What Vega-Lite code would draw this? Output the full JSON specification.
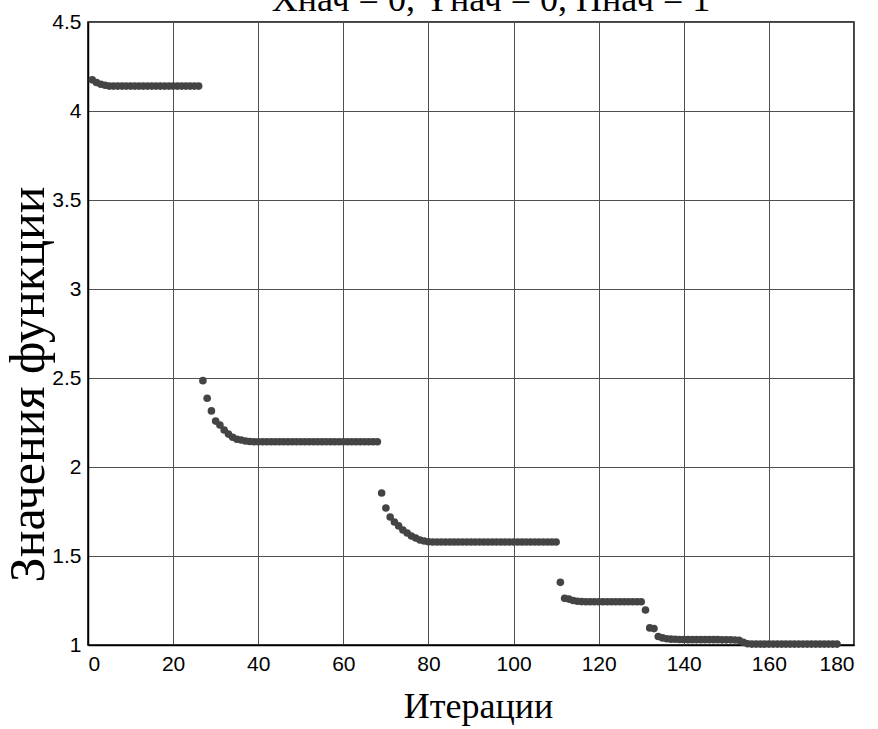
{
  "$schema": "https://vega.github.io/schema/vega-lite/v6.json",
  "width": 766,
  "height": 623,
  "autosize": {"type": "none"},
  "padding": {"left": 88, "top": 22, "right": 24, "bottom": 84},
  "background": "white",
  "title": {
    "text": "Xнач = 0, Yнач = 0, Hнач = 1",
    "font": "Liberation Serif",
    "fontSize": 36,
    "fontWeight": "normal",
    "color": "black",
    "baseline": "alphabetic",
    "anchor": "middle",
    "frame": "group",
    "offset": -36,
    "dx": 20
  },
  "config": {
    "view": {"stroke": "black", "strokeWidth": 1.5},
    "axis": {
      "labelFont": "Liberation Sans",
      "labelFontSize": 21,
      "labelColor": "black",
      "titleFont": "Liberation Serif",
      "titleFontSize": 36,
      "titleFontWeight": "normal",
      "titleColor": "black",
      "gridColor": "#505050",
      "gridOpacity": 1,
      "gridWidth": 1,
      "domainColor": "black",
      "domainWidth": 1.5,
      "ticks": false
    }
  },
  "data": {
    "values": [
      {"iter": 1, "f": 4.175}, {"iter": 2, "f": 4.16}, {"iter": 3, "f": 4.15}, {"iter": 4, "f": 4.145},
      {"iter": 5, "f": 4.14}, {"iter": 6, "f": 4.14}, {"iter": 7, "f": 4.14}, {"iter": 8, "f": 4.14},
      {"iter": 9, "f": 4.14}, {"iter": 10, "f": 4.14}, {"iter": 11, "f": 4.14}, {"iter": 12, "f": 4.14},
      {"iter": 13, "f": 4.14}, {"iter": 14, "f": 4.14}, {"iter": 15, "f": 4.14}, {"iter": 16, "f": 4.14},
      {"iter": 17, "f": 4.14}, {"iter": 18, "f": 4.14}, {"iter": 19, "f": 4.14}, {"iter": 20, "f": 4.14},
      {"iter": 21, "f": 4.14}, {"iter": 22, "f": 4.14}, {"iter": 23, "f": 4.14}, {"iter": 24, "f": 4.14},
      {"iter": 25, "f": 4.14}, {"iter": 26, "f": 4.14},
      {"iter": 27, "f": 2.485}, {"iter": 28, "f": 2.386}, {"iter": 29, "f": 2.315}, {"iter": 30, "f": 2.258},
      {"iter": 31, "f": 2.236}, {"iter": 32, "f": 2.208}, {"iter": 33, "f": 2.185}, {"iter": 34, "f": 2.167},
      {"iter": 35, "f": 2.156}, {"iter": 36, "f": 2.152}, {"iter": 37, "f": 2.146}, {"iter": 38, "f": 2.143},
      {"iter": 39, "f": 2.142}, {"iter": 40, "f": 2.142}, {"iter": 41, "f": 2.142}, {"iter": 42, "f": 2.142},
      {"iter": 43, "f": 2.142}, {"iter": 44, "f": 2.142}, {"iter": 45, "f": 2.142}, {"iter": 46, "f": 2.142},
      {"iter": 47, "f": 2.142}, {"iter": 48, "f": 2.142}, {"iter": 49, "f": 2.142}, {"iter": 50, "f": 2.142},
      {"iter": 51, "f": 2.142}, {"iter": 52, "f": 2.142}, {"iter": 53, "f": 2.142}, {"iter": 54, "f": 2.142},
      {"iter": 55, "f": 2.142}, {"iter": 56, "f": 2.142}, {"iter": 57, "f": 2.142}, {"iter": 58, "f": 2.142},
      {"iter": 59, "f": 2.142}, {"iter": 60, "f": 2.142}, {"iter": 61, "f": 2.142}, {"iter": 62, "f": 2.142},
      {"iter": 63, "f": 2.142}, {"iter": 64, "f": 2.142}, {"iter": 65, "f": 2.142}, {"iter": 66, "f": 2.142},
      {"iter": 67, "f": 2.142}, {"iter": 68, "f": 2.142},
      {"iter": 69, "f": 1.854}, {"iter": 70, "f": 1.77}, {"iter": 71, "f": 1.719}, {"iter": 72, "f": 1.691},
      {"iter": 73, "f": 1.669}, {"iter": 74, "f": 1.646}, {"iter": 75, "f": 1.629}, {"iter": 76, "f": 1.612},
      {"iter": 77, "f": 1.601}, {"iter": 78, "f": 1.59}, {"iter": 79, "f": 1.584}, {"iter": 80, "f": 1.58},
      {"iter": 81, "f": 1.579}, {"iter": 82, "f": 1.579}, {"iter": 83, "f": 1.579}, {"iter": 84, "f": 1.579},
      {"iter": 85, "f": 1.579}, {"iter": 86, "f": 1.579}, {"iter": 87, "f": 1.579}, {"iter": 88, "f": 1.579},
      {"iter": 89, "f": 1.579}, {"iter": 90, "f": 1.579}, {"iter": 91, "f": 1.579}, {"iter": 92, "f": 1.579},
      {"iter": 93, "f": 1.579}, {"iter": 94, "f": 1.579}, {"iter": 95, "f": 1.579}, {"iter": 96, "f": 1.579},
      {"iter": 97, "f": 1.579}, {"iter": 98, "f": 1.579}, {"iter": 99, "f": 1.579}, {"iter": 100, "f": 1.579},
      {"iter": 101, "f": 1.579}, {"iter": 102, "f": 1.579}, {"iter": 103, "f": 1.579}, {"iter": 104, "f": 1.579},
      {"iter": 105, "f": 1.579}, {"iter": 106, "f": 1.579}, {"iter": 107, "f": 1.579}, {"iter": 108, "f": 1.579},
      {"iter": 109, "f": 1.579}, {"iter": 110, "f": 1.579},
      {"iter": 111, "f": 1.352}, {"iter": 112, "f": 1.262}, {"iter": 113, "f": 1.258}, {"iter": 114, "f": 1.25},
      {"iter": 115, "f": 1.246}, {"iter": 116, "f": 1.244}, {"iter": 117, "f": 1.243}, {"iter": 118, "f": 1.243},
      {"iter": 119, "f": 1.243}, {"iter": 120, "f": 1.243}, {"iter": 121, "f": 1.243}, {"iter": 122, "f": 1.243},
      {"iter": 123, "f": 1.243}, {"iter": 124, "f": 1.243}, {"iter": 125, "f": 1.243}, {"iter": 126, "f": 1.243},
      {"iter": 127, "f": 1.243}, {"iter": 128, "f": 1.243}, {"iter": 129, "f": 1.243}, {"iter": 130, "f": 1.243},
      {"iter": 131, "f": 1.197}, {"iter": 132, "f": 1.096}, {"iter": 133, "f": 1.092}, {"iter": 134, "f": 1.048},
      {"iter": 135, "f": 1.04}, {"iter": 136, "f": 1.035}, {"iter": 137, "f": 1.033}, {"iter": 138, "f": 1.032},
      {"iter": 139, "f": 1.031}, {"iter": 140, "f": 1.031}, {"iter": 141, "f": 1.03}, {"iter": 142, "f": 1.03},
      {"iter": 143, "f": 1.03}, {"iter": 144, "f": 1.03}, {"iter": 145, "f": 1.03}, {"iter": 146, "f": 1.03},
      {"iter": 147, "f": 1.03}, {"iter": 148, "f": 1.03}, {"iter": 149, "f": 1.029}, {"iter": 150, "f": 1.029},
      {"iter": 151, "f": 1.029}, {"iter": 152, "f": 1.028}, {"iter": 153, "f": 1.026}, {"iter": 154, "f": 1.015},
      {"iter": 155, "f": 1.007}, {"iter": 156, "f": 1.005}, {"iter": 157, "f": 1.005}, {"iter": 158, "f": 1.005},
      {"iter": 159, "f": 1.005}, {"iter": 160, "f": 1.005}, {"iter": 161, "f": 1.005}, {"iter": 162, "f": 1.005},
      {"iter": 163, "f": 1.005}, {"iter": 164, "f": 1.005}, {"iter": 165, "f": 1.005}, {"iter": 166, "f": 1.005},
      {"iter": 167, "f": 1.005}, {"iter": 168, "f": 1.005}, {"iter": 169, "f": 1.005}, {"iter": 170, "f": 1.005},
      {"iter": 171, "f": 1.005}, {"iter": 172, "f": 1.005}, {"iter": 173, "f": 1.005}, {"iter": 174, "f": 1.005},
      {"iter": 175, "f": 1.005}, {"iter": 176, "f": 1.005}
    ]
  },
  "mark": {"type": "circle", "size": 58, "color": "#444444", "opacity": 1},
  "encoding": {
    "x": {
      "field": "iter",
      "type": "quantitative",
      "scale": {"domain": [0, 180], "nice": false, "zero": false},
      "axis": {
        "title": "Итерации",
        "values": [0, 20, 40, 60, 80, 100, 120, 140, 160, 180],
        "labelPadding": 8,
        "titleX": 390,
        "titleY": 72,
        "titleBaseline": "alphabetic",
        "titleAlign": "center"
      }
    },
    "y": {
      "field": "f",
      "type": "quantitative",
      "scale": {"domain": [1, 4.5], "nice": false, "zero": false},
      "axis": {
        "title": "Значения функции",
        "values": [1, 1.5, 2, 2.5, 3, 3.5, 4, 4.5],
        "format": "~g",
        "labelPadding": 7,
        "titleFontSize": 50,
        "titleX": -45,
        "titleY": 362,
        "titleAngle": -90,
        "titleBaseline": "alphabetic",
        "titleAlign": "center"
      }
    }
  }
}
